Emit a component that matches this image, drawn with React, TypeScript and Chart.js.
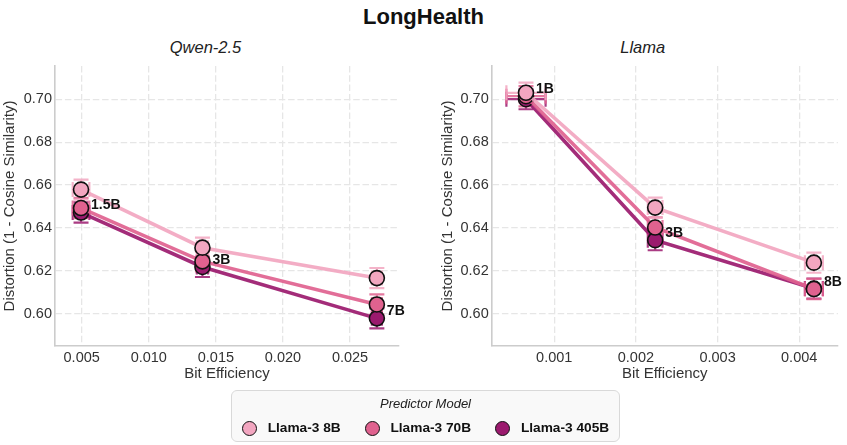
import React, { useEffect, useRef } from "react";
import { Chart, registerables } from "chart.js";

Chart.register(...registerables);
Chart.defaults.font.family = "'Liberation Sans', Arial, sans-serif";

// ---------- data ----------
const chartTitle = "LongHealth";
const legendTitle = "Predictor Model";
const seriesNames = ["Llama-3 8B", "Llama-3 70B", "Llama-3 405B"];
const seriesColors = ["#f2a6c0", "#e0628f", "#9b1a6e"];

const qwenTitle = "Qwen-2.5";
const qwenSizes = ["1.5B", "3B", "7B"];
const qwenBitEff = [0.00495, 0.014, 0.027];
const qwenXErr = [0.00062, 0.00042, 0.00037];
const qwen8B = [0.6579, 0.6308, 0.6166];
const qwen70B = [0.6493, 0.6244, 0.6043];
const qwen405B = [0.6472, 0.6218, 0.5978];
const qwenYErr = [0.0047, 0.0047, 0.0047];
const qwenLabelY = [0.6506, 0.6249, 0.6011];
const qwenXTicks = [0.005, 0.01, 0.015, 0.02, 0.025];

const llamaTitle = "Llama";
const llamaSizes = ["1B", "3B", "8B"];
const llamaBitEff = [0.000654, 0.002236, 0.00418];
const llamaXErr = [0.00024, 0.00009, 0.00011];
const llama8B = [0.7031, 0.6495, 0.6238];
const llama70B = [0.7015, 0.6402, 0.6115];
const llama405B = [0.7001, 0.6343, 0.6117];
const llamaYErr = [0.0047, 0.0047, 0.0047];
const llamaLabelY = [0.7048, 0.6377, 0.6148];
const llamaXTicks = [0.001, 0.002, 0.003, 0.004];

const yTicks = [0.6, 0.62, 0.64, 0.66, 0.68, 0.7];
const xAxisTitle = "Bit Efficiency";
const yAxisTitle = "Distortion (1 - Cosine Similarity)";

function hexA(hex: string, a: number) {
  const n = parseInt(hex.slice(1), 16);
  return `rgba(${(n >> 16) & 255},${(n >> 8) & 255},${n & 255},${a})`;
}

type PanelProps = {
  sizes: string[];
  bitEff: number[];
  xErr: number[];
  series: number[][];
  yErr: number[];
  labelY: number[];
  xTicks: number[];
  xMin: number;
  xMax: number;
  xStep: number;
  yAxisWidth: number;
  yTitlePad: number;
  padRight: number;
  left: number;
  width: number;
};

function Panel(p: PanelProps) {
  const ref = useRef<HTMLCanvasElement | null>(null);
  useEffect(() => {
    if (!ref.current) return;
    const errPlugin = {
      id: "errbars",
      beforeDatasetsDraw(chart: any) {
        const ctx = chart.ctx;
        const xs = chart.scales.x;
        const ys = chart.scales.y;
        const cap = 7.5;
        ctx.save();
        for (let s = p.series.length - 1; s >= 0; s--) {
          ctx.strokeStyle = hexA(seriesColors[s], 0.85);
          ctx.lineWidth = 2.2;
          p.series[s].forEach((v, j) => {
            const px = xs.getPixelForValue(p.bitEff[j]);
            const py = ys.getPixelForValue(v);
            const x1 = xs.getPixelForValue(p.bitEff[j] - p.xErr[j]);
            const x2 = xs.getPixelForValue(p.bitEff[j] + p.xErr[j]);
            const y1 = ys.getPixelForValue(v + p.yErr[j]);
            const y2 = ys.getPixelForValue(v - p.yErr[j]);
            ctx.beginPath();
            ctx.moveTo(x1, py); ctx.lineTo(x2, py);
            ctx.moveTo(x1, py - cap); ctx.lineTo(x1, py + cap);
            ctx.moveTo(x2, py - cap); ctx.lineTo(x2, py + cap);
            ctx.moveTo(px, y1); ctx.lineTo(px, y2);
            ctx.moveTo(px - cap, y1); ctx.lineTo(px + cap, y1);
            ctx.moveTo(px - cap, y2); ctx.lineTo(px + cap, y2);
            ctx.stroke();
          });
        }
        ctx.restore();
      },
      afterDatasetsDraw(chart: any) {
        const ctx = chart.ctx;
        const xs = chart.scales.x;
        const ys = chart.scales.y;
        ctx.save();
        ctx.font = "bold 14px 'Liberation Sans', Arial, sans-serif";
        ctx.fillStyle = "#111";
        ctx.textAlign = "left";
        ctx.textBaseline = "middle";
        p.sizes.forEach((s, j) => {
          ctx.fillText(s, xs.getPixelForValue(p.bitEff[j]) + 10, ys.getPixelForValue(p.labelY[j]));
        });
        ctx.restore();
      },
    };
    const chart = new Chart(ref.current, {
      type: "line",
      data: {
        datasets: p.series.map((vals, s) => ({
          label: seriesNames[s],
          data: vals.map((v, j) => ({ x: p.bitEff[j], y: v })),
          borderColor: hexA(seriesColors[s], 0.92),
          borderWidth: 3.6,
          backgroundColor: seriesColors[s],
          pointBackgroundColor: seriesColors[s],
          pointBorderColor: "#111",
          pointBorderWidth: 1.6,
          pointRadius: 7.5,
          tension: 0,
        })),
      },
      options: {
        animation: false,
        responsive: true,
        maintainAspectRatio: false,
        layout: { padding: { top: 36, right: p.padRight, left: 0, bottom: 0 } },
        plugins: { legend: { display: false }, tooltip: { enabled: false }, title: { display: false } },
        scales: {
          x: {
            type: "linear",
            min: p.xMin,
            max: p.xMax,
            afterFit: (sc: any) => { sc.height = 50; },
            afterBuildTicks: (sc: any) => { sc.ticks = p.xTicks.map((v) => ({ value: v })); },
            ticks: {
              stepSize: p.xStep,
              includeBounds: false,
              padding: 3,
              color: "#333",
              font: { size: 14.5 },
              callback: (v: any) => Number(v).toFixed(3),
            },
            grid: { color: "#e6e6e6", lineWidth: 1.3, drawTicks: false },
            border: { display: true, color: "#cccccc", width: 1.6, dash: [6.5, 2.8] },
            title: {
              display: true,
              text: xAxisTitle,
              color: "#333",
              font: { size: 15 },
              padding: { top: 0, bottom: 13 },
            },
          },
          y: {
            type: "linear",
            min: 0.5849,
            max: 0.7156,
            afterFit: (sc: any) => { sc.width = p.yAxisWidth; },
            afterBuildTicks: (sc: any) => { sc.ticks = yTicks.map((v) => ({ value: v })); },
            ticks: {
              stepSize: 0.02,
              includeBounds: false,
              padding: 3,
              color: "#333",
              font: { size: 14.5 },
              callback: (v: any) => Number(v).toFixed(2),
            },
            grid: { color: "#e6e6e6", lineWidth: 1.3, drawTicks: false },
            border: { display: true, color: "#cccccc", width: 1.6, dash: [6.5, 2.8] },
            title: {
              display: true,
              text: yAxisTitle,
              color: "#333",
              font: { size: 15 },
              padding: { top: p.yTitlePad, bottom: 0 },
            },
          },
        },
      } as any,
      plugins: [errPlugin],
    });
    return () => chart.destroy();
  }, []);
  return (
    <div style={{ position: "absolute", left: p.left, top: 30, width: p.width, height: 366 }}>
      <canvas ref={ref} />
    </div>
  );
}

export default function App() {
  const subStyle: React.CSSProperties = {
    position: "absolute",
    top: 37,
    width: 200,
    textAlign: "center",
    fontStyle: "italic",
    fontSize: 16.5,
    lineHeight: "20px",
    color: "#222",
    fontFamily: "'Liberation Sans', Arial, sans-serif",
  };
  return (
    <div
      style={{
        position: "absolute",
        left: 0,
        top: 0,
        width: 847,
        height: 445,
        background: "#fff",
        fontFamily: "'Liberation Sans', Arial, sans-serif",
        overflow: "hidden",
      }}
    >
      <div
        style={{
          position: "absolute",
          left: 0,
          top: 3,
          width: 847,
          textAlign: "center",
          fontWeight: "bold",
          fontSize: 22,
          lineHeight: "28px",
          color: "#111",
        }}
      >
        {chartTitle}
      </div>
      <div style={{ ...subStyle, left: 205.5 - 100 }}>{qwenTitle}</div>
      <div style={{ ...subStyle, left: 642.7 - 100 }}>{llamaTitle}</div>
      <Panel
        sizes={qwenSizes}
        bitEff={qwenBitEff}
        xErr={qwenXErr}
        series={[qwen8B, qwen70B, qwen405B]}
        yErr={qwenYErr}
        labelY={qwenLabelY}
        xTicks={qwenXTicks}
        xMin={0.00301}
        xMax={0.02865}
        xStep={0.005}
        yAxisWidth={55}
        yTitlePad={1}
        padRight={21}
        left={0}
        width={420}
      />
      <Panel
        sizes={llamaSizes}
        bitEff={llamaBitEff}
        xErr={llamaXErr}
        series={[llama8B, llama70B, llama405B]}
        yErr={llamaYErr}
        labelY={llamaLabelY}
        xTicks={llamaXTicks}
        xMin={0.000234}
        xMax={0.004474}
        xStep={0.001}
        yAxisWidth={71.7}
        yTitlePad={19}
        padRight={9}
        left={420}
        width={427}
      />
      <div
        style={{
          position: "absolute",
          left: 231,
          top: 390,
          width: 389,
          height: 52,
          boxSizing: "border-box",
          border: "1px solid #d9d9d9",
          borderRadius: 6,
          background: "rgba(248,248,248,0.9)",
        }}
      >
        <div
          style={{
            position: "absolute",
            left: 0,
            right: 0,
            top: 5,
            textAlign: "center",
            fontStyle: "italic",
            fontSize: 13,
            lineHeight: "16px",
            color: "#222",
          }}
        >
          {legendTitle}
        </div>
        <div
          style={{
            position: "absolute",
            left: 0,
            right: 0,
            top: 28,
            display: "flex",
            justifyContent: "center",
            alignItems: "center",
            gap: 24,
          }}
        >
          {seriesNames.map((n, i) => (
            <div key={n} style={{ display: "flex", alignItems: "center" }}>
              <span
                style={{
                  display: "inline-block",
                  width: 15,
                  height: 15,
                  boxSizing: "border-box",
                  borderRadius: "50%",
                  border: "1.5px solid #111",
                  background: seriesColors[i],
                  marginRight: 10.8,
                }}
              />
              <span style={{ fontWeight: "bold", fontSize: 13.7, lineHeight: "18px", color: "#111" }}>{n}</span>
            </div>
          ))}
        </div>
      </div>
    </div>
  );
}
